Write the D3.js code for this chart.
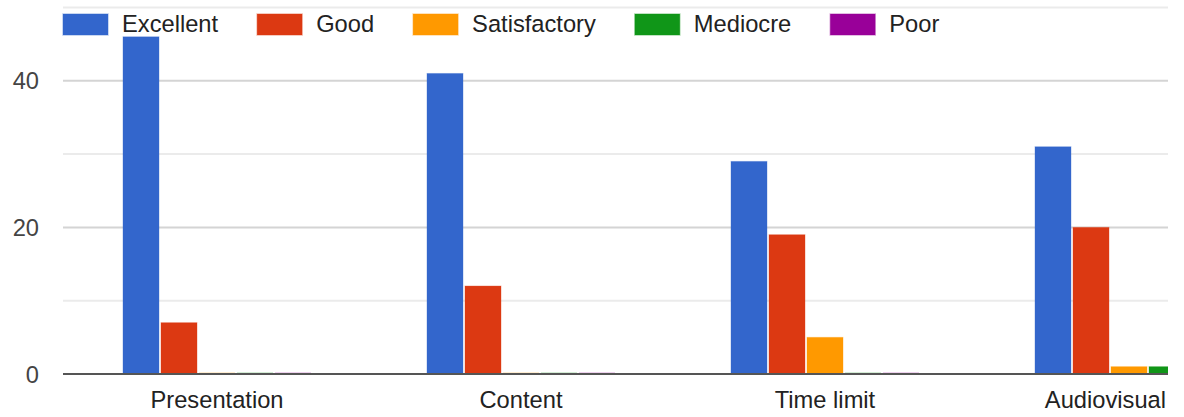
<!DOCTYPE html>
<html>
<head>
<meta charset="utf-8">
<script src="https://cdn.jsdelivr.net/npm/d3@7"></script>
<style>
  html, body { margin: 0; padding: 0; background: #fff; }
  svg { display: block; font-family: "Liberation Sans", Arial, sans-serif; }
</style>
</head>
<body>
<svg id="chart" width="1184" height="417"></svg>
<script>
const categories = ["Presentation", "Content", "Time limit", "Audiovisual"];
const seriesNames = ["Excellent", "Good", "Satisfactory", "Mediocre", "Poor"];
const seriesColors = ["#3366cc", "#dc3912", "#ff9900", "#109618", "#990099"];
const excellent    = [46, 41, 29, 31];
const good         = [7, 12, 19, 20];
const satisfactory = [0, 0, 5, 1];
const mediocre     = [0, 0, 0, 1];
const poor         = [0, 0, 0, 0];
const yMajorTicks  = [0, 20, 40];
const yMinorTicks  = [10, 30, 50];

const seriesValues = [excellent, good, satisfactory, mediocre, poor];

const svg = d3.select("#chart");
const plotLeft = 63, plotRight = 1168, plotTop = 0, baseY = 374;
const fontSize = 23.7;

const y = d3.scaleLinear().domain([0, 50]).range([baseY, 7.5]);
const x0 = d3.scaleBand().domain(categories).range([65, 65 + 4 * 304])
  .paddingInner(0.375).paddingOuter(0.1875);
const x1 = d3.scaleBand().domain(seriesNames).range([0, x0.bandwidth()])
  .paddingInner(0.0526).paddingOuter(0.0263);

// clip
svg.append("defs").append("clipPath").attr("id", "plotclip")
  .append("rect").attr("x", plotLeft).attr("y", plotTop)
  .attr("width", plotRight - plotLeft).attr("height", baseY + 4);

// gridlines
const grid = svg.append("g");
grid.selectAll("line.minor").data(yMinorTicks).join("line")
  .attr("x1", plotLeft).attr("x2", plotRight)
  .attr("y1", d => y(d)).attr("y2", d => y(d))
  .attr("stroke", "#ebebeb").attr("stroke-width", 2);
grid.selectAll("line.major").data(yMajorTicks.filter(d => d !== 0)).join("line")
  .attr("x1", plotLeft).attr("x2", plotRight)
  .attr("y1", d => y(d)).attr("y2", d => y(d))
  .attr("stroke", "#d4d4d4").attr("stroke-width", 2);

// y labels
svg.append("g").selectAll("text").data(yMajorTicks).join("text")
  .attr("x", 39).attr("y", d => y(d)).attr("dy", "0.36em")
  .attr("text-anchor", "end").attr("font-size", fontSize).attr("fill", "#444")
  .text(d => d);

// bars
const bars = svg.append("g").attr("clip-path", "url(#plotclip)");
categories.forEach((cat, ci) => {
  seriesNames.forEach((s, si) => {
    const v = seriesValues[si][ci];
    const bx = x0(cat) + x1(s);
    if (v > 0) {
      bars.append("rect")
        .attr("x", bx).attr("width", x1.bandwidth())
        .attr("y", y(v)).attr("height", baseY - y(v))
        .attr("fill", seriesColors[si])
        .attr("stroke", seriesColors[si]).attr("stroke-opacity", 0.35).attr("stroke-width", 1);
    } else {
      bars.append("rect")
        .attr("x", bx).attr("width", x1.bandwidth())
        .attr("y", baseY - 2).attr("height", 1.5)
        .attr("fill", seriesColors[si]).attr("opacity", 0.18);
    }
  });
});

// baseline
svg.append("line").attr("x1", plotLeft).attr("x2", plotRight)
  .attr("y1", baseY).attr("y2", baseY)
  .attr("stroke", "#555").attr("stroke-width", 2);

// x labels
const xl = svg.append("g");
categories.forEach(cat => {
  const t = xl.append("text")
    .attr("y", 408).attr("font-size", fontSize).attr("fill", "#222")
    .attr("text-anchor", "middle").text(cat);
  const w = t.node().getComputedTextLength();
  let cx = x0(cat) + x0.bandwidth() / 2;
  if (cx + w / 2 > plotRight - 2) cx = plotRight - 2 - w / 2;
  t.attr("x", cx);
});

// legend
const lg = svg.append("g");
let lx = 63;
seriesNames.forEach((s, i) => {
  lg.append("rect").attr("x", lx).attr("y", 14).attr("width", 45).attr("height", 21)
    .attr("fill", seriesColors[i])
    .attr("stroke", seriesColors[i]).attr("stroke-opacity", 0.35).attr("stroke-width", 1.5);
  const t = lg.append("text").attr("x", lx + 59).attr("y", 32)
    .attr("font-size", fontSize).attr("fill", "#222").text(s);
  const w = t.node().getComputedTextLength();
  lx = lx + 59 + w + 39;
});
</script>
</body>
</html>
